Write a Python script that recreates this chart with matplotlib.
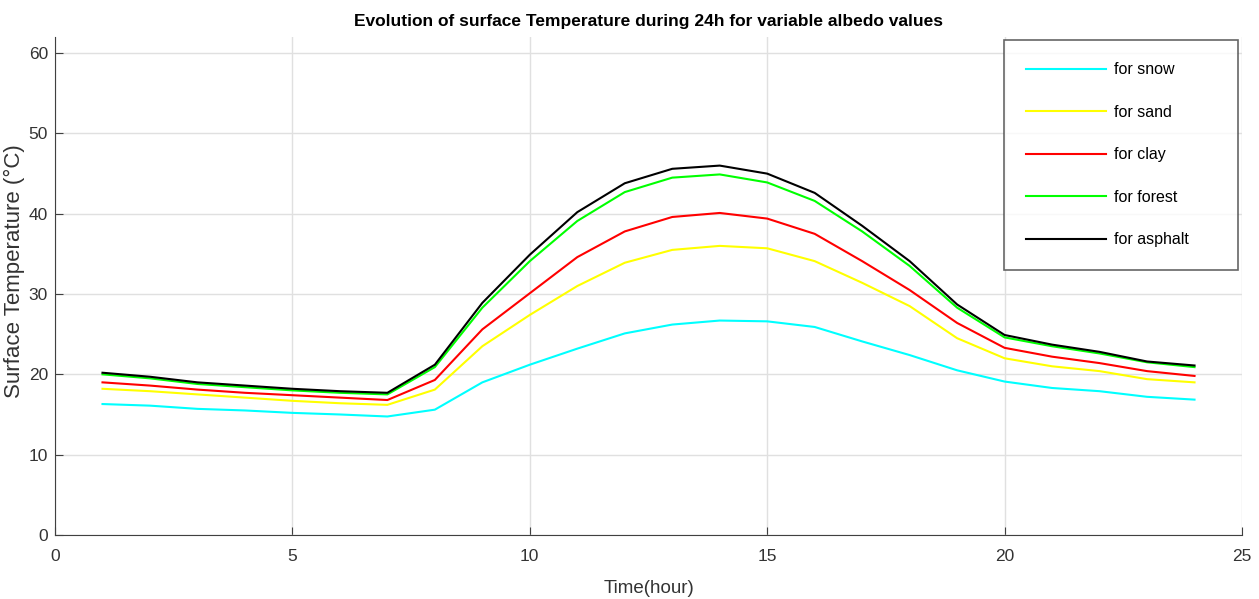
import matplotlib
matplotlib.use('Agg')
import matplotlib.pyplot as plt

# Horas del día
hours = list(range(1, 25))

# Temperatura superficial (°C) para cada albedo
t_snow = [16.3, 16.1, 15.7, 15.5, 15.2, 15.0, 14.75, 15.6, 19.0, 21.2, 23.2, 25.1,
          26.2, 26.7, 26.6, 25.9, 24.1, 22.4, 20.5, 19.1, 18.3, 17.9, 17.2, 16.85]
t_sand = [18.2, 17.9, 17.5, 17.1, 16.7, 16.4, 16.2, 18.1, 23.5, 27.4, 31.0, 33.9,
          35.5, 36.0, 35.7, 34.1, 31.4, 28.5, 24.5, 22.0, 21.0, 20.4, 19.4, 19.0]
t_clay = [19.0, 18.6, 18.1, 17.7, 17.4, 17.1, 16.8, 19.3, 25.6, 30.1, 34.6, 37.8,
          39.6, 40.1, 39.4, 37.5, 34.1, 30.5, 26.4, 23.3, 22.2, 21.4, 20.4, 19.8]
t_forest = [20.0, 19.5, 18.8, 18.4, 18.0, 17.7, 17.5, 20.9, 28.3, 34.1, 39.1, 42.7,
            44.5, 44.9, 43.9, 41.6, 37.8, 33.5, 28.3, 24.6, 23.5, 22.6, 21.5, 20.9]
t_asphalt = [20.2, 19.7, 19.0, 18.6, 18.2, 17.9, 17.7, 21.2, 28.9, 34.9, 40.2, 43.8,
             45.6, 46.0, 45.0, 42.6, 38.5, 34.1, 28.7, 24.9, 23.7, 22.8, 21.6, 21.1]

labels = ['for snow', 'for sand', 'for clay', 'for forest', 'for asphalt']
colors = ['#00ffff', '#ffff00', '#ff0000', '#00ff00', '#000000']
series = [t_snow, t_sand, t_clay, t_forest, t_asphalt]

plt.rcParams['font.family'] = ['Liberation Sans', 'DejaVu Sans']

fig = plt.figure(figsize=(12.59, 5.99), dpi=100)
ax = fig.add_axes([0.0437, 0.107, 0.9428, 0.831])

for vals, lab, col in zip(series, labels, colors):
    ax.plot(hours, vals, color=col, linewidth=1.5, label=lab)

ax.set_xlim(0, 25)
ax.set_ylim(0, 62)
ax.set_xticks([0, 5, 10, 15, 20, 25])
ax.set_yticks([0, 10, 20, 30, 40, 50, 60])
ax.grid(True, color='#e0e0e0', linewidth=1)
ax.set_axisbelow(True)
ax.spines['top'].set_visible(False)
ax.spines['right'].set_visible(False)
ax.spines['left'].set_color('#404040')
ax.spines['bottom'].set_color('#404040')
ax.tick_params(direction='in', length=6, colors='#404040', labelsize=12.5,
               labelcolor='#333333')
ax.tick_params(axis='x', pad=10)
ax.tick_params(axis='y', pad=5)

ax.set_title('Evolution of surface Temperature during 24h for variable albedo values',
             fontsize=12.5, fontweight='bold', pad=8)
ax.set_xlabel('Time(hour)', fontsize=13.5, color='#333333', labelpad=12)
ax.set_ylabel('Surface Temperature (°C)', fontsize=16, color='#333333')
ax.yaxis.set_label_coords(-0.025, 0.53)

leg = ax.legend(loc='upper left', bbox_to_anchor=(0.7995, 0.545, 0.197, 0.449),
                mode='expand', fontsize=11.5,
                frameon=True, fancybox=False, edgecolor='#404040',
                handlelength=5.0, handletextpad=0.5, labelspacing=1.72,
                borderpad=1.4, borderaxespad=0.0)
leg.get_frame().set_linewidth(1.2)

fig.savefig('out.png', dpi=100, facecolor='white')
